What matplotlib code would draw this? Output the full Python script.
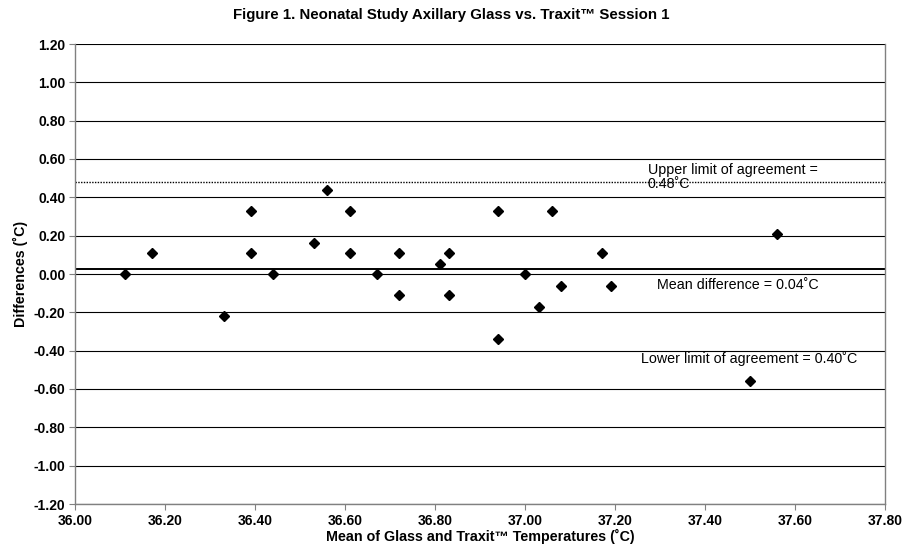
import matplotlib
matplotlib.use("Agg")
import matplotlib.pyplot as plt
import numpy as np

plt.rcParams["font.family"] = ["Liberation Sans", "DejaVu Sans"]

# mean of the two readings (x) and their difference (y)
mean_temp = [36.11, 36.17, 36.33, 36.39, 36.39, 36.44, 36.53, 36.56, 36.61, 36.61,
             36.67, 36.72, 36.72, 36.81, 36.83, 36.83, 36.94, 36.94, 37.00, 37.03,
             37.06, 37.08, 37.17, 37.19, 37.50, 37.56]
diffs = [0.00, 0.11, -0.22, 0.33, 0.11, 0.00, 0.16, 0.44, 0.33, 0.11,
         0.00, 0.11, -0.11, 0.05, 0.11, -0.11, 0.33, -0.34, 0.00, -0.17,
         0.33, -0.06, 0.11, -0.06, -0.56, 0.21]

mean_diff = 0.025
upper_limit = 0.48

x_ticks = np.round(np.arange(36.0, 37.81, 0.2), 2)
y_ticks = np.round(np.arange(-1.2, 1.21, 0.2), 2) + 0.0

fig = plt.figure(figsize=(9.03, 5.52), dpi=100)
ax = fig.add_axes([75 / 903, 48 / 552, 810 / 903, 460 / 552])

for y in y_ticks:
    ax.axhline(y, color="black", linewidth=0.8, zorder=1)
ax.axhline(upper_limit, color="black", linewidth=1.0, linestyle=(0, (1, 1)), zorder=2)
ax.axhline(mean_diff, color="black", linewidth=1.4, zorder=2)

ax.plot(mean_temp, diffs, linestyle="none", marker="D", markersize=5.5,
        color="black", zorder=3)

ax.set_xlim(36.0, 37.8)
ax.set_ylim(-1.2, 1.2)
ax.set_xticks(x_ticks)
ax.set_yticks(y_ticks)
ax.set_xticklabels([f"{v:.2f}" for v in x_ticks])
ax.set_yticklabels([f"{abs(v):.2f}" if abs(v) < 1e-9 else f"{v:.2f}" for v in y_ticks])
ax.tick_params(direction="out", length=4, width=0.8, color="#808080",
               labelsize=10, pad=3)
for lab in ax.get_xticklabels() + ax.get_yticklabels():
    lab.set_fontweight("bold")

for side in ["left", "right", "bottom"]:
    ax.spines[side].set_color("#808080")
    ax.spines[side].set_linewidth(1.0)
ax.spines["top"].set_visible(False)

ax.text(37.273, 0.505, "Upper limit of agreement =\n0.48˚C", fontsize=10.3,
        ha="left", va="center", linespacing=1.0, zorder=4)
ax.text(37.473, -0.057, "Mean difference = 0.04˚C", fontsize=10.3,
        ha="center", va="center", zorder=4)
ax.text(37.498, -0.44, "Lower limit of agreement = 0.40˚C", fontsize=10.3,
        ha="center", va="center", zorder=4)

ax.set_xlabel("Mean of Glass and Traxit™ Temperatures (˚C)", fontsize=10.3,
              fontweight="bold", labelpad=1)
ax.set_ylabel("Differences (˚C)", fontsize=10.3, fontweight="bold", labelpad=4)
fig.suptitle("Figure 1. Neonatal Study Axillary Glass vs. Traxit™ Session 1",
             fontsize=10.8, fontweight="bold", x=0.5, y=0.985)

fig.savefig("out.png", dpi=100)
